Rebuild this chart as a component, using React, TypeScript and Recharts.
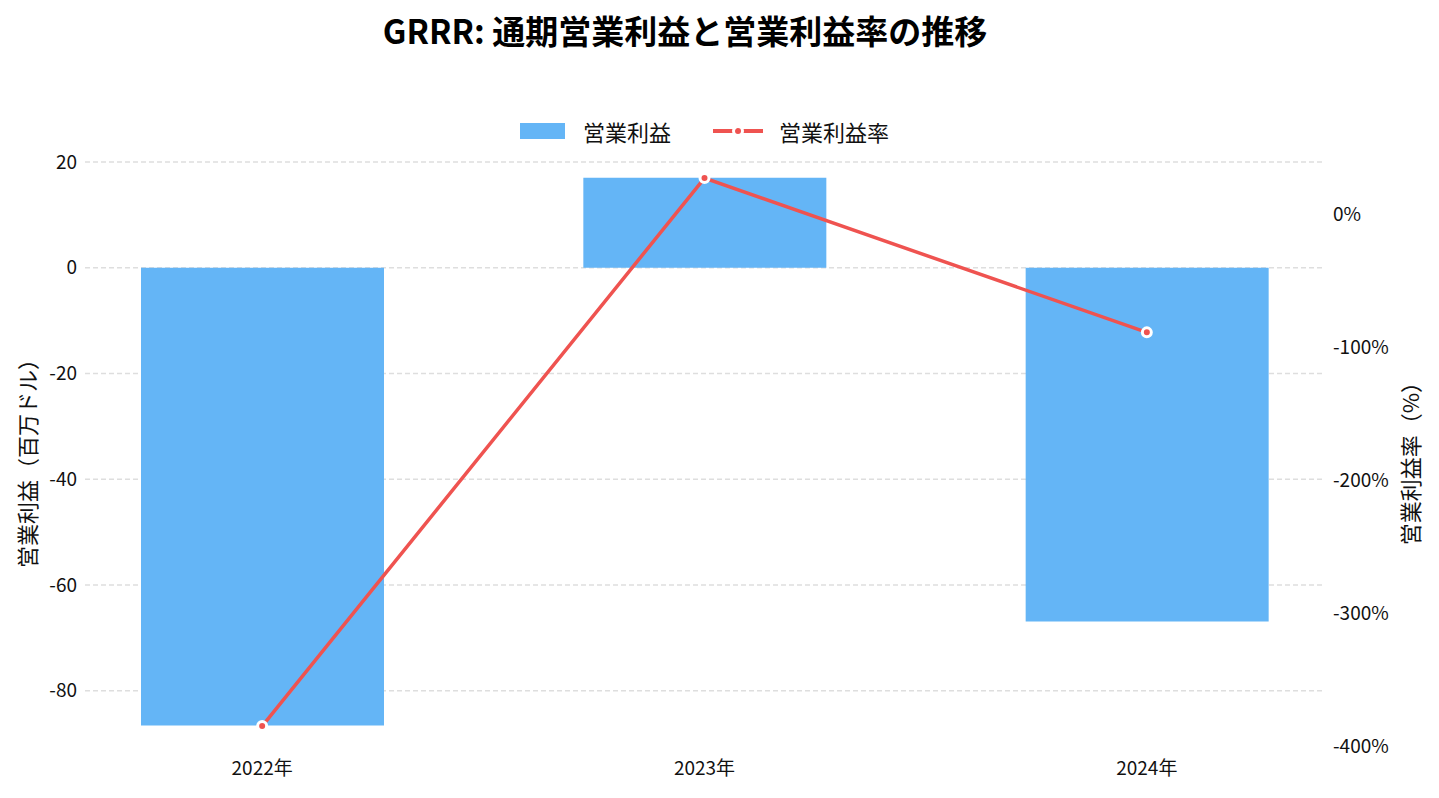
import {
  ComposedChart,
  Bar,
  Line,
  XAxis,
  YAxis,
  CartesianGrid,
  Label,
} from 'recharts';

const years = ['2022年', '2023年', '2024年'];
const operatingIncome = [-86.6, 17.0, -66.9];
const operatingMargin = [-385, 27, -89];
const incomeTicks = [20, 0, -20, -40, -60, -80];
const marginTicks = [0, -100, -200, -300, -400];

const chartData = years.map((year, i) => ({
  year,
  income: operatingIncome[i],
  margin: operatingMargin[i],
}));

const FONT = "'Noto Sans CJK JP', 'Noto Sans', sans-serif";
const BLUE = '#64B5F6';
const RED = '#EF5350';

const App = () => {
  return (
    <div style={{ position: 'relative', width: 1439, height: 798, fontFamily: FONT, background: '#fff' }}>
      <style>{'body{margin:0}'}</style>
      <div
        style={{
          position: 'absolute',
          top: 8,
          left: 0,
          width: 1370,
          textAlign: 'center',
          fontSize: 33,
          fontWeight: 700,
          color: '#000',
          lineHeight: '44px',
        }}
      >
        GRRR: 通期営業利益と営業利益率の推移
      </div>

      <div
        style={{
          position: 'absolute',
          top: 116,
          left: 520,
          display: 'flex',
          alignItems: 'center',
          fontSize: 22,
          color: '#111',
          lineHeight: '30px',
        }}
      >
        <span style={{ display: 'inline-block', width: 45, height: 16, background: BLUE, marginRight: 18 }} />
        <span>営業利益</span>
        <svg width={52} height={16} style={{ marginLeft: 41, marginRight: 15 }}>
          <line x1={1} y1={8} x2={51} y2={8} stroke={RED} strokeWidth={4} />
          <circle cx={26} cy={8} r={4.5} fill={RED} stroke="#fff" strokeWidth={3} />
        </svg>
        <span>営業利益率</span>
      </div>

      <ComposedChart
        width={1439}
        height={798}
        data={chartData}
        margin={{ top: 162, right: 0, bottom: 12, left: 0 }}
        style={{ position: 'absolute', top: 0, left: 0 }}
      >
        <CartesianGrid
          yAxisId="left"
          vertical={false}
          horizontalValues={incomeTicks}
          stroke="#dedede"
          strokeWidth={1.5}
          strokeDasharray="5 3"
        />
        <XAxis
          dataKey="year"
          axisLine={false}
          tickLine={false}
          tickSize={0}
          tickMargin={16}
          height={40}
          padding={{ left: -44, right: -43 }}
          tick={{ fill: '#111', fontSize: 19, fontFamily: FONT }}
        />
        <YAxis
          yAxisId="left"
          orientation="left"
          width={85}
          domain={[-90.46, 20]}
          ticks={incomeTicks}
          allowDataOverflow
          axisLine={false}
          tickLine={false}
          tickSize={0}
          tickMargin={8}
          tick={{ fill: '#111', fontSize: 19, fontFamily: FONT }}
        >
          <Label
            value="営業利益（百万ドル）"
            angle={-90}
            position="center"
            dx={-14}
            dy={4}
            style={{ fill: '#111', fontSize: 22, fontFamily: FONT }}
          />
        </YAxis>
        <YAxis
          yAxisId="right"
          orientation="right"
          width={114}
          domain={[-400, 39.1]}
          ticks={marginTicks}
          allowDataOverflow
          axisLine={false}
          tickLine={false}
          tickSize={0}
          tickMargin={8}
          tickFormatter={(v: number) => `${v}%`}
          tick={{ fill: '#111', fontSize: 19, fontFamily: FONT }}
        >
          <Label
            value="営業利益率（%）"
            angle={-90}
            position="center"
            dx={29}
            dy={4}
            style={{ fill: '#111', fontSize: 22, fontFamily: FONT }}
          />
        </YAxis>
        <Bar yAxisId="left" dataKey="income" fill={BLUE} barSize={243} isAnimationActive={false} />
        <Line
          yAxisId="right"
          dataKey="margin"
          stroke={RED}
          strokeWidth={3.5}
          dot={{ r: 4.5, fill: RED, stroke: '#fff', strokeWidth: 3 }}
          activeDot={false}
          isAnimationActive={false}
        />
      </ComposedChart>
    </div>
  );
};

export default App;
